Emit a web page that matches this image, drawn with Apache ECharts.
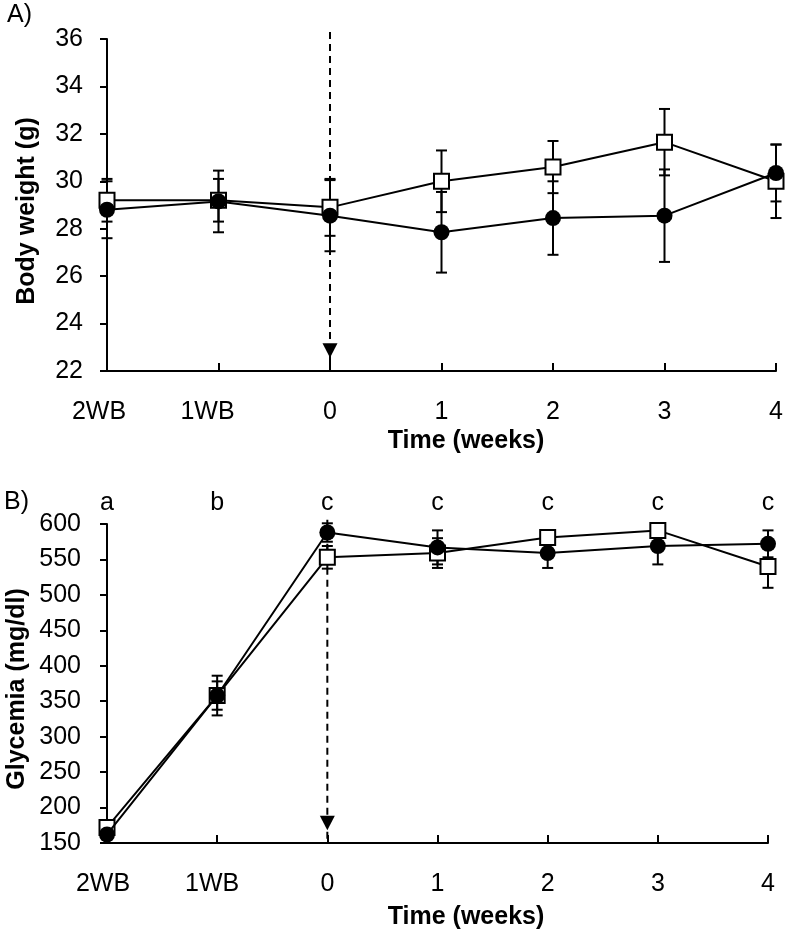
<!DOCTYPE html>
<html>
<head>
<meta charset="utf-8">
<script src="https://cdn.jsdelivr.net/npm/echarts@6/dist/echarts.min.js"></script>
<style>
html,body{margin:0;padding:0;background:#fff;}
#chart{width:787px;height:936px;}
</style>
</head>
<body>
<div id="chart"></div>
<script>
// ---- data ----
const categories = ['2WB', '1WB', '0', '1', '2', '3', '4'];
const sigLetters = ['a', 'b', 'c', 'c', 'c', 'c', 'c'];

const weightSquare    = [29.2, 29.2, 28.9, 30.0, 30.6, 31.65, 30.0];
const weightSquareErr = [0.9, 0.9, 1.2, 1.3, 1.1, 1.4, 1.55];
const weightCircle    = [28.8, 29.15, 28.55, 27.85, 28.45, 28.55, 30.35];
const weightCircleErr = [1.2, 1.3, 1.5, 1.7, 1.55, 1.95, 1.2];

const glySquare    = [172, 358, 553, 559, 581, 591, 540];
const glySquareErr = [5, 20, 16, 21, 8, 8, 30];
const glyCircle    = [162, 358, 588, 567, 559, 569, 572];
const glyCircleErr = [6, 28, 13, 24, 21, 26, 19];

const weightTicks = {min: 22, max: 36, interval: 2};
const glyTicks = {min: 150, max: 600, interval: 50};

// treatment start arrow at category '0': [category index, top value, arrow-tip value, bottom value]
const arrowA = [[2, 36.3, 22.56, 22]];
const arrowB = [[2, 606, 168, 150]];

// ---- chart ----
const FONT = '"Liberation Sans", Arial, sans-serif';
const BLACK = '#000';
const TICK_FS = 25;
const TITLE_FS = 25;

function errData(vals, errs) {
  return vals.map((v, i) => [i, v - errs[i], v + errs[i]]);
}
function errRender(params, api) {
  const i = api.value(0);
  const lo = api.coord([i, api.value(1)]);
  const hi = api.coord([i, api.value(2)]);
  const x = lo[0], w = 5.5;
  const st = {stroke: BLACK, lineWidth: 2};
  return {
    type: 'group',
    children: [
      {type: 'line', shape: {x1: x, y1: lo[1], x2: x, y2: hi[1]}, style: st},
      {type: 'line', shape: {x1: x - w, y1: lo[1], x2: x + w, y2: lo[1]}, style: st},
      {type: 'line', shape: {x1: x - w, y1: hi[1], x2: x + w, y2: hi[1]}, style: st}
    ]
  };
}
function arrowRender(params, api) {
  const ci = api.value(0);
  const top = api.coord([ci, api.value(1)]);
  const tip = api.coord([ci, api.value(2)]);
  const bot = api.coord([ci, api.value(3)]);
  const x = top[0], hw = 7.5, h = 14.5;
  return {
    type: 'group',
    children: [
      {type: 'line', shape: {x1: x, y1: top[1], x2: x, y2: bot[1]},
        style: {stroke: BLACK, lineWidth: 2, lineDash: [7, 5]}},
      {type: 'polygon', shape: {points: [[x - hw, tip[1] - h], [x + hw, tip[1] - h], [x, tip[1]]]},
        style: {fill: BLACK}}
    ]
  };
}

const richShift = {};
[4, 5, 8, 11].forEach(s => {
  richShift['s' + s] = {fontSize: TICK_FS, fontFamily: FONT, color: BLACK, padding: [0, 2 * s, 0, 0]};
});
function xAxisFor(gridIndex, shifts) {
  return {
    type: 'category', gridIndex: gridIndex, data: categories, boundaryGap: false,
    axisLine: {lineStyle: {color: BLACK, width: 2}},
    axisTick: {inside: true, length: 8, interval: 0, lineStyle: {color: BLACK, width: 2}},
    axisLabel: {color: BLACK, fontSize: TICK_FS, fontFamily: FONT, margin: 29, interval: 0,
      hideOverlap: false, rich: richShift,
      formatter: (v) => shifts[v] ? '{s' + shifts[v] + '|' + v + '}' : v}
  };
}
function yAxisFor(gridIndex, ticks, margin) {
  return {
    type: 'value', gridIndex: gridIndex, min: ticks.min, max: ticks.max, interval: ticks.interval,
    axisLine: {show: true, lineStyle: {color: BLACK, width: 2}},
    axisTick: {show: true, length: 7, lineStyle: {color: BLACK, width: 2}},
    axisLabel: {color: BLACK, fontSize: TICK_FS, fontFamily: FONT, margin: margin},
    splitLine: {show: false}
  };
}
function lineSeries(xi, vals, shape) {
  return {
    type: 'line', xAxisIndex: xi, yAxisIndex: xi, data: vals,
    symbol: shape === 'circle' ? 'circle' : 'rect',
    symbolSize: shape === 'circle' ? 16 : 15,
    showSymbol: true,
    lineStyle: {color: BLACK, width: 2},
    itemStyle: shape === 'circle'
      ? {color: BLACK, borderColor: BLACK, borderWidth: 0}
      : {color: '#fff', borderColor: BLACK, borderWidth: 2},
    z: shape === 'circle' ? 4 : 3,
    animation: false, silent: true
  };
}
function errSeries(xi, vals, errs) {
  return {
    type: 'custom', xAxisIndex: xi, yAxisIndex: xi,
    data: errData(vals, errs), renderItem: errRender,
    z: 2, animation: false, silent: true, clip: false
  };
}
function arrowSeries(xi, d) {
  return {
    type: 'custom', xAxisIndex: xi, yAxisIndex: xi,
    data: d, renderItem: arrowRender,
    encode: {x: 0, y: [1, 2, 3]},
    z: 1, animation: false, silent: true, clip: false
  };
}

const chart = echarts.init(document.getElementById('chart'), null, {renderer: 'canvas'});
chart.setOption({
  backgroundColor: '#fff',
  animation: false,
  grid: [
    {left: 107, right: 11, top: 39, height: 332},
    {left: 107, right: 19, top: 524, height: 319}
  ],
  xAxis: [
    xAxisFor(0, {'2WB': 8, '1WB': 11}),
    xAxisFor(1, {'2WB': 4, '1WB': 5}),
    {
      type: 'category', gridIndex: 1, position: 'top', data: categories,
      boundaryGap: false,
      axisLine: {show: false}, axisTick: {show: false},
      axisLabel: {color: BLACK, fontSize: TICK_FS, fontFamily: FONT, margin: 8, interval: 0,
        hideOverlap: false, formatter: (v, i) => sigLetters[i]}
    }
  ],
  yAxis: [
    yAxisFor(0, weightTicks, 24),
    yAxisFor(1, glyTicks, 26)
  ],
  series: [
    arrowSeries(0, arrowA),
    errSeries(0, weightSquare, weightSquareErr),
    errSeries(0, weightCircle, weightCircleErr),
    lineSeries(0, weightSquare, 'rect'),
    lineSeries(0, weightCircle, 'circle'),
    arrowSeries(1, arrowB),
    errSeries(1, glySquare, glySquareErr),
    errSeries(1, glyCircle, glyCircleErr),
    lineSeries(1, glySquare, 'rect'),
    lineSeries(1, glyCircle, 'circle')
  ],
  graphic: [
    {type: 'text', left: 7, top: 3, style: {text: 'A)', font: TICK_FS + 'px ' + FONT, fill: BLACK}},
    {type: 'text', left: 4, top: 490, style: {text: 'B)', font: TICK_FS + 'px ' + FONT, fill: BLACK}},
    {type: 'text', x: 27, y: 211, rotation: Math.PI / 2,
      style: {text: 'Body weight (g)', font: 'bold ' + TITLE_FS + 'px ' + FONT, fill: BLACK, align: 'center', verticalAlign: 'middle'}},
    {type: 'text', x: 17, y: 689, rotation: Math.PI / 2,
      style: {text: 'Glycemia (mg/dl)', font: 'bold ' + TITLE_FS + 'px ' + FONT, fill: BLACK, align: 'center', verticalAlign: 'middle'}},
    {type: 'text', x: 466, y: 441, style: {text: 'Time (weeks)', font: 'bold ' + TITLE_FS + 'px ' + FONT, fill: BLACK, align: 'center', verticalAlign: 'middle'}},
    {type: 'text', x: 466, y: 917, style: {text: 'Time (weeks)', font: 'bold ' + TITLE_FS + 'px ' + FONT, fill: BLACK, align: 'center', verticalAlign: 'middle'}}
  ]
});
</script>
</body>
</html>
